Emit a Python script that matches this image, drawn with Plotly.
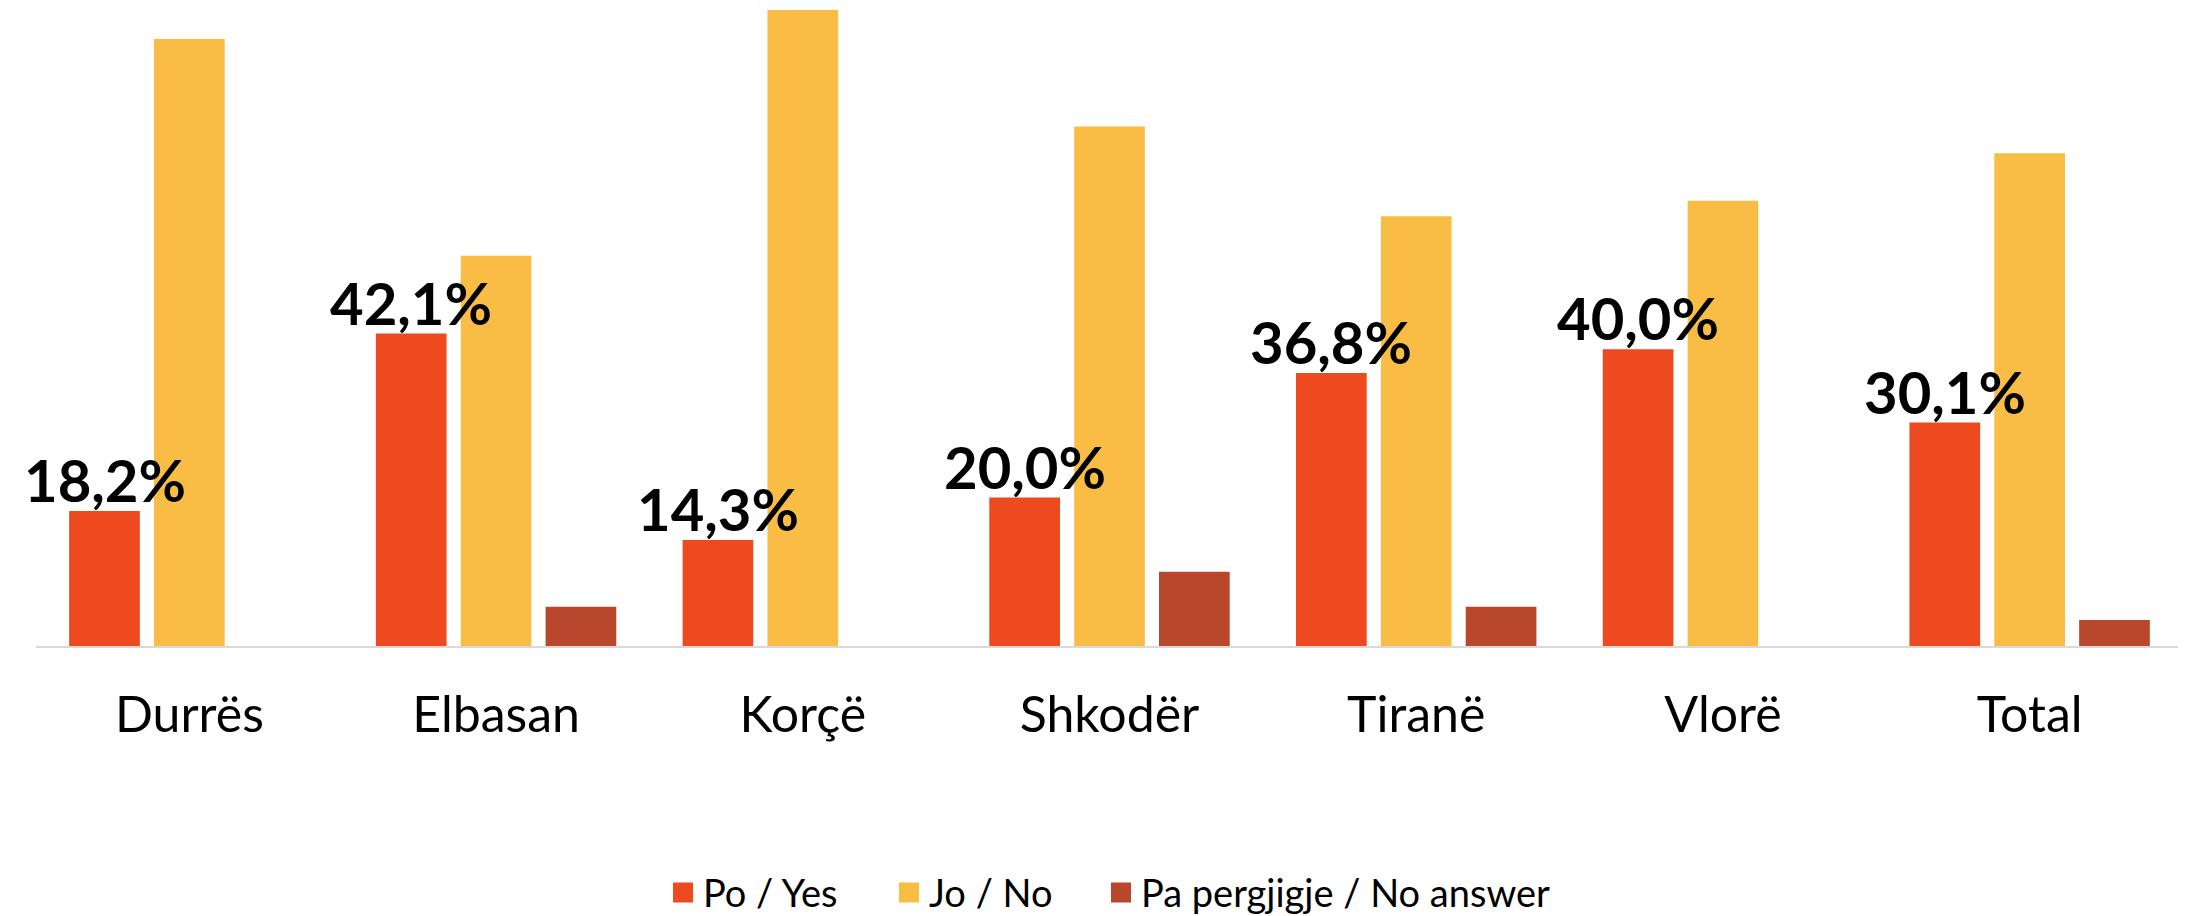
import plotly.graph_objects as go

categories = ["Durrës", "Elbasan", "Korçë", "Shkodër", "Tiranë", "Vlorë", "Total"]
yes_vals = [18.2, 42.1, 14.3, 20.0, 36.8, 40.0, 30.1]
no_vals = [81.8, 52.6, 85.7, 70.0, 57.9, 60.0, 66.4]
na_vals = [0.0, 5.3, 0.0, 10.0, 5.3, 0.0, 3.5]
series_names = ["Po / Yes", "Jo / No", "Pa pergjigje / No answer"]
colors = ["#EE4A20", "#F9BD45", "#B8472B"]
legend_widths = [181, 167, None]

W, H = 2186, 916
ML, MR, MT, MB = 28, 11, 0, 278
BARGAP, GROUPGAP = 0.17, 0.167

fig = go.Figure()
for name, vals, col in zip(series_names, [yes_vals, no_vals, na_vals], colors):
    fig.add_trace(go.Bar(x=categories, y=vals, name=name, showlegend=False,
                         marker=dict(color=col, line=dict(width=0))))
# legend entries (larger square swatches)
for name, col, lw in zip(series_names, colors, legend_widths):
    kw = dict(legendwidth=lw) if lw else {}
    fig.add_trace(go.Scatter(x=[None], y=[None], mode="markers", name=name,
                             marker=dict(symbol="square", size=16, color=col,
                                         line=dict(color=col, width=4)), **kw))

plot_w = W - ML - MR
slot = plot_w / len(categories) * (1 - BARGAP) / 3
for c, v in zip(categories, yes_vals):
    fig.add_annotation(x=c, y=v, text=f"{v:.1f}%".replace(".", ","), showarrow=False,
                       xshift=-slot, yanchor="bottom", yshift=-5,
                       font=dict(family="Lato", size=58, color="black", weight="bold"))

fig.update_layout(
    width=W, height=H,
    margin=dict(l=ML, r=MR, t=MT, b=MB, pad=0),
    paper_bgcolor="white", plot_bgcolor="white",
    barmode="group", bargap=BARGAP, bargroupgap=GROUPGAP,
    showlegend=True,
    legend=dict(orientation="h", x=0.5, xanchor="center", xref="paper",
                y=0.034, yanchor="middle", yref="container",
                font=dict(family="Lato", size=38, color="black"), traceorder="normal"),
    xaxis=dict(showline=True, linecolor="#D9D9D9", linewidth=2, ticks="", showgrid=False,
               automargin=False, ticklabelstandoff=24, range=[-0.5, len(categories) - 0.5],
               autorange=False, tickfont=dict(family="Lato", size=50, color="black")),
    yaxis=dict(range=[0, 85.97], autorange=False, visible=False, showgrid=False,
               zeroline=False, automargin=False),
)
fig.write_html("out.html")
